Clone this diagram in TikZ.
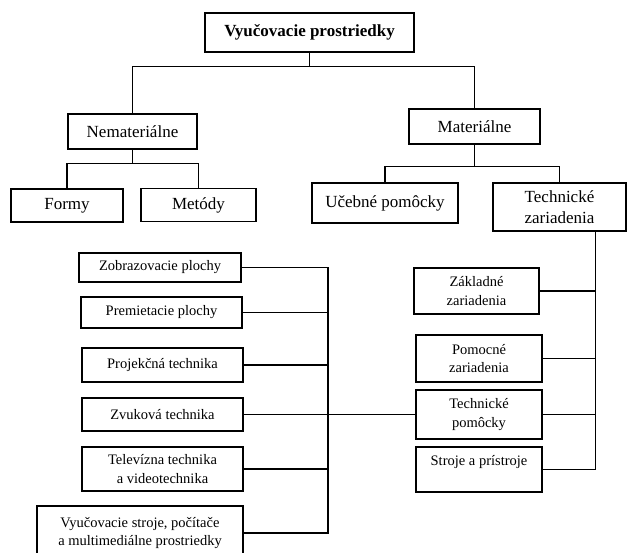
\documentclass[tikz,border=0pt]{standalone}
\usepackage{fontspec}
\setmainfont{Liberation Serif}
\usepackage{tikz}

\begin{document}
\begin{tikzpicture}[x=1pt,y=-1pt,line width=1.4pt,
    box/.style={draw,align=center,inner sep=2pt,font=\fontsize{17}{21.5}\selectfont},
    smallbox/.style={box,font=\fontsize{14.5}{18.5}\selectfont}]
  \useasboundingbox (0,0) rectangle (627,553);
  % upper tree
  \node[box] (root) at (309.5,32.5) [minimum width=209pt,minimum height=39pt] {\textbf{Vyučovacie prostriedky}};
  \node[box] (nem) at (132.5,131.5) [minimum width=129pt,minimum height=35pt] {Nemateriálne};
  \node[box] (mat) at (474.5,126.5) [minimum width=131pt,minimum height=35pt] {Materiálne};
  \node[box] (formy) at (67,205.5) [minimum width=112pt,minimum height=33pt] {Formy};
  \node[box] (metody) at (198.5,205) [minimum width=115pt,minimum height=33pt] {Metódy};
  \node[box] (ucebne) at (385,203) [minimum width=146pt,minimum height=40pt] {Učebné pomôcky};
  \node[box] (techz) at (559.5,207) [minimum width=133pt,minimum height=48pt] {Technické\\zariadenia};
  % left column
  \node[smallbox] (zobr) at (160,267.5) [minimum width=162pt,minimum height=29pt] {Zobrazovacie plochy};
  \node[smallbox] (prem) at (161.5,312.5) [minimum width=161pt,minimum height=31pt] {Premietacie plochy};
  \node[smallbox] (proj) at (162.5,365) [minimum width=161pt,minimum height=34pt] {Projekčná technika};
  \node[smallbox] (zvuk) at (162.5,414.5) [minimum width=161pt,minimum height=33pt] {Zvuková technika};
  \node[smallbox] (telev) at (162.5,469) [minimum width=161pt,minimum height=44pt] {Televízna technika\\a videotechnika};
  \node[smallbox] (vyuc) at (140,533) [minimum width=206pt,minimum height=54pt] {Vyučovacie stroje, počítače\\a multimediálne prostriedky};
  % right column
  \node[smallbox] (zakl) at (476.5,291) [minimum width=125pt,minimum height=46pt] {Základné\\zariadenia};
  \node[smallbox] (pomoc) at (479,358.5) [minimum width=126pt,minimum height=47pt] {Pomocné\\zariadenia};
  \node[smallbox] (techpom) at (479,414.5) [minimum width=126pt,minimum height=49pt] {Technické\\pomôcky};
  \node[smallbox] (stroje) at (479,469.5) [minimum width=126pt,minimum height=45pt] {Stroje a prístroje\\~};

  % connectors
  \draw (root.south) -- ++(0,14) -| (nem.north);
  \draw (root.south) -- ++(0,14) -| (mat.north);
  \draw (nem.south) -- ++(0,14) -| (formy.north);
  \draw (nem.south) -- ++(0,14) -| (metody.north);
  \draw (mat.south) -- ++(0,22) -| (ucebne.north);
  \draw (mat.south) -- ++(0,22) -| (techz.north);
  \coordinate (lbus) at (328,266);
  \coordinate (rbus) at ([xshift=-31pt]techz.south east);
  \draw (zobr.east) -- (zobr.east -| lbus) -- (vyuc.east -| lbus) -- (vyuc.east);
  \foreach \n in {prem,proj,zvuk,telev}
    \draw (\n.east) -- (\n.east -| lbus);
  \draw (zvuk.east) -- (techpom.west);
  \draw (rbus) -- (stroje.east -| rbus) -- (stroje.east);
  \foreach \n in {zakl,pomoc,techpom}
    \draw (\n.east) -- (\n.east -| rbus);
\end{tikzpicture}
\end{document}
